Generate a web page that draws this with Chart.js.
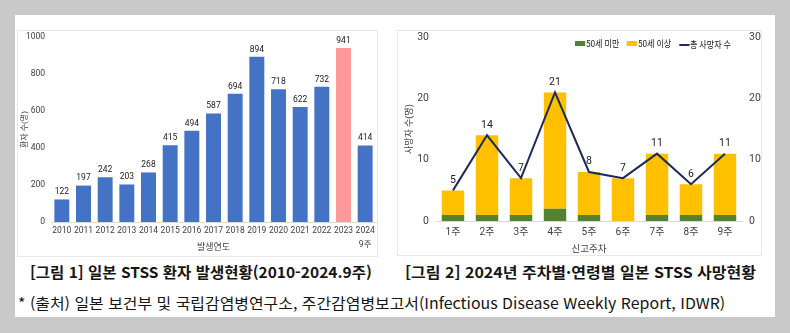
<!DOCTYPE html>
<html lang="ko">
<head>
<meta charset="utf-8">
<script src="https://cdn.jsdelivr.net/npm/chart.js@4.4.1/dist/chart.umd.min.js"></script>
<style>
  html, body { margin: 0; padding: 0; }
  body { width: 790px; height: 333px; background: #c9c9c9; position: relative; overflow: hidden;
         font-family: "Noto Sans CJK KR", "Noto Sans", sans-serif; }
  .panel { position: absolute; left: 15px; top: 15px; width: 760px; height: 302px; background: #fff; }
  .box { position: absolute; border: 1px solid #e8e8e8; box-sizing: border-box; }
  .chart-wrap { position: absolute; }
  .legend { top: 36px; font-size: 9.5px; color: #333; line-height: 14px;
            font-family: Roboto, "Noto Sans CJK KR", sans-serif; }
  .legend span.item { display: inline-flex; align-items: center; margin-right: 9px; }
  .legend span.item:last-child { margin-right: 0; }
  .legend i { display: inline-block; width: 12px; margin-right: 1px; }
  .fit { position: absolute; white-space: nowrap; transform-origin: 0 50%; color: #151515; }
  .caption { top: 262px; font-size: 15px; font-weight: 700; line-height: 20px; }
  .note { top: 293px; font-size: 15px; font-weight: 400; line-height: 20px; }
</style>
</head>
<body>
<div class="panel"></div>
<div class="box" style="left:17px;top:30px;width:361px;height:227px"></div>
<div class="box" style="left:397px;top:30px;width:365px;height:226px"></div>
<!-- canvases start a little above the boxes: the y scales reserve label padding at the top -->
<div class="chart-wrap" style="left:17px;top:26px;width:360px;height:231px"><canvas id="casesChart"></canvas></div>
<div class="chart-wrap" style="left:397px;top:24px;width:364px;height:232px"><canvas id="deathsChart"></canvas></div>
<div class="fit legend" id="deathsLegend"></div>
<div class="fit caption" id="cap1">[그림 1] 일본 STSS 환자 발생현황(2010-2024.9주)</div>
<div class="fit caption" id="cap2">[그림 2] 2024년 주차별·연령별 일본 STSS 사망현황</div>
<div class="fit note" id="note">* (출처) 일본 보건부 및 국립감염병연구소, 주간감염병보고서(Infectious Disease Weekly Report, IDWR)</div>

<script>
// figure 1: yearly patients
const years = ['2010', '2011', '2012', '2013', '2014', '2015', '2016', '2017', '2018', '2019',
               '2020', '2021', '2022', '2023', ['2024', '9주']];
const patients = [122, 197, 242, 203, 268, 415, 494, 587, 694, 894, 718, 622, 732, 941, 414];
const patientTicks = [0, 200, 400, 600, 800, 1000];

// figure 2: deaths by report week
const weeks = ['1주', '2주', '3주', '4주', '5주', '6주', '7주', '8주', '9주'];
const under50 = [1, 1, 1, 2, 1, 0, 1, 1, 1];
const over50 = [4, 13, 6, 19, 7, 7, 10, 5, 10];
const totalDeaths = [5, 14, 7, 21, 8, 7, 11, 6, 11];
const deathTicks = [0, 10, 20, 30];

const BLUE = '#4472c4';
const PINK = '#ff9999';
const GREEN = '#548235';
const YELLOW = '#ffc000';
const NAVY = '#1c2b59';
const TEXT = '#404040';
const FONT = 'Roboto, "Noto Sans CJK KR", sans-serif';

// draws values above bars / points
const valueLabels = {
    id: 'valueLabels',
    afterDatasetsDraw(chart, args, opts) {
        const ctx = chart.ctx;
        const meta = chart.getDatasetMeta(opts.dataset);
        const values = chart.data.datasets[opts.dataset].data;
        ctx.save();
        ctx.font = opts.size + 'px ' + FONT;
        ctx.fillStyle = opts.color;
        ctx.textAlign = 'center';
        ctx.textBaseline = 'bottom';
        meta.data.forEach((el, i) => {
            ctx.fillText(values[i], el.x, el.y - opts.offset);
        });
        ctx.restore();
    }
};

function fixedWidth(w) { return scale => { scale.width = w; }; }
function fixedHeight(h) { return scale => { scale.height = h; }; }
const plain = v => String(v);

new Chart(document.getElementById('casesChart'), {
    type: 'bar',
    data: {
        labels: years,
        datasets: [{
            data: patients,
            backgroundColor: years.map(y => y === '2023' ? PINK : BLUE),
            barPercentage: 0.69,
            categoryPercentage: 1
        }]
    },
    options: {
        responsive: true,
        maintainAspectRatio: false,
        animation: false,
        layout: { padding: { top: 0, right: 1, left: 0, bottom: 0 } },
        plugins: {
            legend: { display: false },
            tooltip: { enabled: false },
            valueLabels: { dataset: 0, size: 8.5, color: '#222', offset: 3 }
        },
        scales: {
            x: {
                grid: { display: false, drawTicks: false },
                border: { display: true, color: '#d9d9d9' },
                ticks: { color: TEXT, font: { family: FONT, size: 8.5, lineHeight: 1.6 }, padding: 2, maxRotation: 0, autoSkip: false },
                title: { display: true, text: '발생연도', color: TEXT, font: { family: FONT, size: 9 }, padding: { top: 0, bottom: 4 } },
                afterFit: fixedHeight(35)
            },
            y: {
                min: 0,
                max: 1000,
                afterBuildTicks: scale => { scale.ticks = patientTicks.map(v => ({ value: v })); },
                grid: { display: false, drawTicks: false },
                border: { display: false },
                ticks: { color: TEXT, font: { family: FONT, size: 8.5 }, padding: 6, callback: plain },
                title: { display: true, text: '환자 수(명)', color: TEXT, font: { family: FONT, size: 8 }, padding: { top: 3, bottom: 0 } },
                afterFit: fixedWidth(34)
            }
        }
    },
    plugins: [valueLabels]
});

const deathSets = [
    { type: 'bar', label: '50세 미만', data: under50, backgroundColor: GREEN, stack: 'age', order: 1,
      barPercentage: 0.66, categoryPercentage: 1 },
    { type: 'bar', label: '50세 이상', data: over50, backgroundColor: YELLOW, stack: 'age', order: 1,
      barPercentage: 0.66, categoryPercentage: 1 },
    { type: 'line', label: '총 사망자 수', data: totalDeaths, borderColor: NAVY, backgroundColor: NAVY,
      borderWidth: 2, pointRadius: 0, tension: 0, stack: 'total', order: 0 }
];

new Chart(document.getElementById('deathsChart'), {
    data: { labels: weeks, datasets: deathSets },
    options: {
        responsive: true,
        maintainAspectRatio: false,
        animation: false,
        layout: { padding: { top: 0, right: 0, left: 0, bottom: 0 } },
        plugins: {
            legend: { display: false },
            tooltip: { enabled: false },
            valueLabels: { dataset: 2, size: 10.5, color: '#222', offset: 5 }
        },
        scales: {
            x: {
                stacked: true,
                grid: { display: false, drawTicks: false },
                border: { display: true, color: '#d9d9d9' },
                ticks: { color: TEXT, font: { family: FONT, size: 10, lineHeight: 1.5 }, padding: 4, maxRotation: 0 },
                title: { display: true, text: '신고주차', color: TEXT, font: { family: FONT, size: 9.5 }, padding: { top: 0, bottom: 1 } },
                afterFit: fixedHeight(35)
            },
            y: {
                stacked: true,
                min: 0,
                max: 30,
                afterBuildTicks: scale => { scale.ticks = deathTicks.map(v => ({ value: v })); },
                grid: { display: false, drawTicks: false },
                border: { display: false },
                ticks: { color: TEXT, font: { family: FONT, size: 10.5 }, padding: 7, callback: plain },
                title: { display: true, text: '사망자 수(명)', color: TEXT, font: { family: FONT, size: 9 }, padding: { top: 7, bottom: 0 } },
                afterFit: fixedWidth(39)
            },
            y2: {
                position: 'right',
                min: 0,
                max: 30,
                afterBuildTicks: scale => { scale.ticks = deathTicks.map(v => ({ value: v })); },
                grid: { display: false, drawTicks: false },
                border: { display: false },
                ticks: { color: TEXT, font: { family: FONT, size: 10.5 }, padding: 7, callback: plain },
                afterFit: fixedWidth(19)
            }
        }
    },
    plugins: [valueLabels]
});

// html legend for figure 2
const legendEl = document.getElementById('deathsLegend');
deathSets.forEach(ds => {
    const item = document.createElement('span');
    item.className = 'item';
    const mark = document.createElement('i');
    mark.style.height = ds.type === 'line' ? '2px' : '5px';
    mark.style.background = ds.type === 'line' ? ds.borderColor : ds.backgroundColor;
    item.appendChild(mark);
    item.appendChild(document.createTextNode(ds.label));
    legendEl.appendChild(item);
});

// squeeze texts to the narrow look of the original
function fitText(id, left, width) {
    const el = document.getElementById(id);
    el.style.left = left + 'px';
    el.style.transform = 'scaleX(' + (width / el.scrollWidth) + ')';
}
fitText('deathsLegend', 575, 156);
fitText('cap1', 30, 342);
fitText('cap2', 405, 351);
fitText('note', 18, 707);
</script>
</body>
</html>
